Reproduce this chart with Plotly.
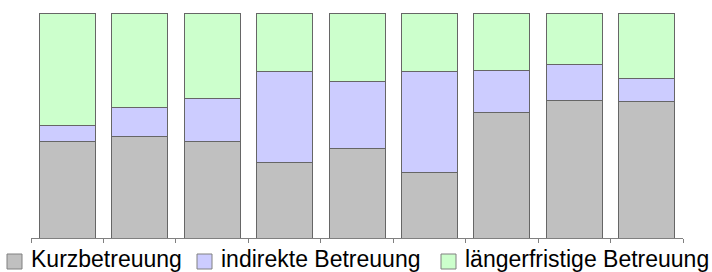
import plotly.graph_objects as go

categories = ["1", "2", "3", "4", "5", "6", "7", "8", "9"]
kurz = [43.0, 45.3, 43.0, 33.4, 39.9, 29.2, 55.9, 61.3, 60.5]
indirekt = [6.8, 12.7, 19.1, 40.6, 29.8, 44.9, 18.5, 15.7, 10.4]
laenger = [50.2, 42.0, 37.9, 26.0, 30.3, 25.9, 25.6, 23.0, 29.1]

series_names = ["Kurzbetreuung", "indirekte Betreuung", "längerfristige Betreuung"]
series_values = [kurz, indirekt, laenger]
colors = ["#C0C0C0", "#CCCCFF", "#CCFFCC"]

W, H = 712, 272
ML, MR, MT, MB = 31, 29, 13, 34
PW, PH = W - ML - MR, H - MT - MB

def px_x(x):
    return (x - ML) / PW

def px_y(y):
    return (H - MB - y) / PH

fig = go.Figure()
for name, vals, col in zip(series_names, series_values, colors):
    fig.add_trace(go.Bar(
        x=categories, y=vals, name=name,
        marker=dict(color=col, line=dict(color="#666666", width=1)),
        showlegend=False,
    ))

# manual legend
legend_x = [7, 197, 441]
shapes = []
annotations = []
for lx, name, col in zip(legend_x, series_names, colors):
    shapes.append(dict(type="rect", xref="paper", yref="paper",
                       x0=px_x(lx), x1=px_x(lx + 15), y0=px_y(254), y1=px_y(269),
                       fillcolor=col, line=dict(color="#808080", width=1)))
    annotations.append(dict(xref="paper", yref="paper", x=px_x(lx + 22), y=px_y(258.5),
                            xanchor="left", yanchor="middle", showarrow=False,
                            text=name, font=dict(family="Liberation Sans, Arial", size=23, color="#000000")))

fig.update_layout(
    barmode="stack",
    bargap=0.227,
    width=W, height=H,
    margin=dict(l=ML, r=MR, t=MT, b=MB, pad=0),
    paper_bgcolor="white", plot_bgcolor="white",
    shapes=shapes, annotations=annotations,
    showlegend=False,
    xaxis=dict(showticklabels=False, showgrid=False, zeroline=False,
               showline=True, linecolor="#808080", linewidth=1,
               ticks="outside", tickson="boundaries", ticklen=4,
               tickcolor="#808080", tickwidth=1),
    yaxis=dict(range=[0, 100], visible=False, showgrid=False, zeroline=False),
)

fig.write_html("out.html", config={"displayModeBar": False},
               post_script="document.body.style.margin='0';document.body.style.overflow='hidden';")
